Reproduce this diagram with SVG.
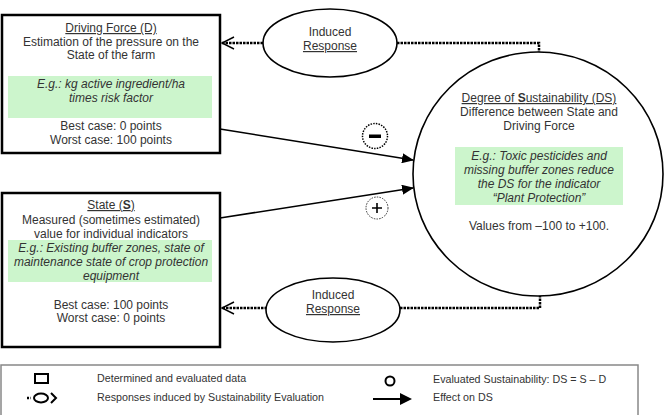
<svg xmlns="http://www.w3.org/2000/svg" width="665" height="415" viewBox="0 0 665 415">
<style>
text{font-family:"Liberation Sans",Arial,sans-serif;fill:#333;font-size:12px;text-anchor:middle}
.it{font-style:italic}
.u{text-decoration:underline}
.box{fill:#fff;stroke:#000;stroke-width:2.5}
.green{fill:#ccf5cc}
.ell{fill:#fff;stroke:#000;stroke-width:1.6}
.dot{fill:none;stroke:#000;stroke-width:2.5;stroke-dasharray:2.5,1}
.chev{fill:none;stroke:#000;stroke-width:1.4}
.arr{fill:none;stroke:#000;stroke-width:1.6}
.leg{font-size:10.7px;text-anchor:start}
</style>
<defs>
<marker id="ah" markerWidth="12" markerHeight="10" refX="11" refY="5" orient="auto" markerUnits="userSpaceOnUse">
<path d="M0,0 L12,5 L0,10 z" fill="#000"/>
</marker>
</defs>

<g id="driving-force">
<rect class="box" x="2" y="15" width="218" height="138"/>
<rect class="green" x="8" y="76" width="204" height="42"/>
<text x="111" y="32" class="u">Driving Force (D)</text>
<text x="111" y="46">Estimation of the pressure on the</text>
<text x="111" y="59">State of the farm</text>
<text x="111" y="88" class="it">E.g.: kg active ingredient/ha</text>
<text x="111" y="102" class="it">times risk factor</text>
<text x="111" y="130">Best case: 0 points</text>
<text x="111" y="144">Worst case: 100 points</text>
</g>

<g id="state">
<rect class="box" x="2" y="193" width="218" height="154"/>
<rect class="green" x="8" y="240" width="204" height="42"/>
<text x="111" y="209" class="u">State (<tspan font-weight="bold">S</tspan>)</text>
<text x="111" y="224">Measured (sometimes estimated)</text>
<text x="111" y="238">value for individual indicators</text>
<text x="111" y="252" class="it">E.g.: Existing buffer zones, state of</text>
<text x="111" y="266" class="it">maintenance state of crop protection</text>
<text x="111" y="280" class="it">equipment</text>
<text x="111" y="309">Best case: 100 points</text>
<text x="111" y="322">Worst case: 0 points</text>
</g>

<g id="connectors">
<path class="dot" d="M263,43 L222,43"/>
<path class="chev" d="M234,37 L222,43 L234,49"/>
<path class="dot" d="M397,43 L539,43 L539,52"/>
<path class="dot" d="M267,308 L222,308"/>
<path class="chev" d="M234,302 L222,308 L234,314"/>
<path class="dot" d="M400,308 L540,308 L540,296"/>
<path class="arr" d="M220,129 L413,160" marker-end="url(#ah)"/>
<path class="arr" d="M220,218 L413,188" marker-end="url(#ah)"/>
<g id="minus">
<circle cx="375" cy="136" r="12.5" fill="#fff" stroke="#000" stroke-width="1.5" stroke-dasharray="1.5,1.2"/>
<rect x="369" y="134.5" width="12" height="3.5" fill="#000"/>
</g>
<g id="plus">
<circle cx="377" cy="208" r="11" fill="#fff" stroke="#333" stroke-width="1" stroke-dasharray="1.5,1.2"/>
<path d="M372,208 H382 M377,203 V213" stroke="#000" stroke-width="1.6"/>
</g>
</g>

<g id="response-top">
<ellipse class="ell" cx="330" cy="43" rx="67" ry="34"/>
<text x="330" y="36">Induced</text>
<text x="330" y="50" class="u">Response</text>
</g>

<g id="response-bottom">
<ellipse class="ell" cx="333" cy="310" rx="67" ry="32"/>
<text x="333" y="299">Induced</text>
<text x="333" y="313" class="u">Response</text>
</g>

<g id="degree">
<ellipse class="ell" cx="538" cy="174" rx="125" ry="122"/>
<rect class="green" x="455" y="147" width="168" height="58"/>
<text x="539" y="102" class="u">Degree of <tspan font-weight="bold">S</tspan>ustainability (DS)</text>
<text x="539" y="116">Difference between State and</text>
<text x="539" y="130">Driving Force</text>
<text x="539" y="160" class="it">E.g.: Toxic pesticides and</text>
<text x="539" y="174" class="it">missing buffer zones reduce</text>
<text x="539" y="188" class="it">the DS for the indicator</text>
<text x="539" y="202" class="it">“Plant Protection”</text>
<text x="539" y="230">Values from –100 to +100.</text>
</g>

<g id="legend">
<rect x="1" y="365" width="637" height="60" fill="#fff" stroke="#888" stroke-width="1.5"/>
<rect x="35" y="374" width="13" height="9" fill="none" stroke="#000" stroke-width="2"/>
<path d="M27,398 H31" stroke="#000" stroke-width="2.5" stroke-dasharray="2,1.5"/>
<ellipse cx="41" cy="398" rx="7" ry="4.5" fill="none" stroke="#000" stroke-width="2"/>
<path d="M51,393 L56,398 L51,403" fill="none" stroke="#000" stroke-width="2"/>
<text x="97" y="382" class="leg">Determined and evaluated data</text>
<text x="97" y="401" class="leg">Responses induced by Sustainability Evaluation</text>
<circle cx="390" cy="381" r="4.5" fill="none" stroke="#000" stroke-width="2"/>
<path d="M373,399 H402" stroke="#000" stroke-width="2"/>
<path d="M400,393 L412,399 L400,405 z" fill="#000"/>
<text x="433" y="383" class="leg">Evaluated Sustainability: DS = S – D</text>
<text x="433" y="401" class="leg">Effect on DS</text>
</g>
</svg>
